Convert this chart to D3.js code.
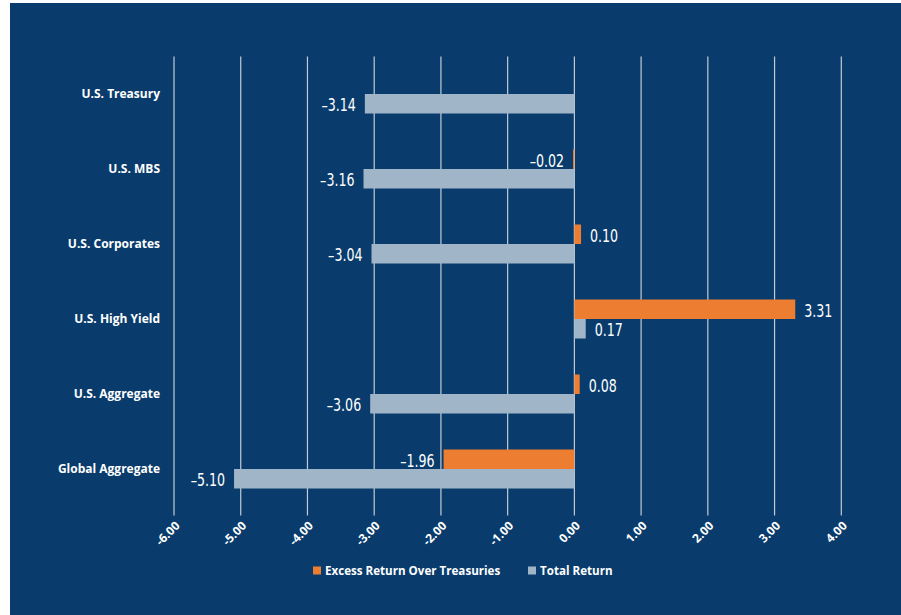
<!DOCTYPE html>
<html>
<head>
<meta charset="utf-8">
<script src="https://cdn.jsdelivr.net/npm/d3@7"></script>
<style>
  html, body { margin: 0; padding: 0; background: #ffffff; }
  svg { display: block; }
</style>
</head>
<body>
<svg id="chart" width="901" height="615"></svg>
<script>
const categories = ["U.S. Treasury", "U.S. MBS", "U.S. Corporates", "U.S. High Yield", "U.S. Aggregate", "Global Aggregate"];
const excessReturn = [null, -0.02, 0.10, 3.31, 0.08, -1.96];
const totalReturn = [-3.14, -3.16, -3.04, 0.17, -3.06, -5.10];
const seriesNames = ["Excess Return Over Treasuries", "Total Return"];
const seriesColors = ["#ed7d31", "#a1b5c9"];
const xTicks = [-6, -5, -4, -3, -2, -1, 0, 1, 2, 3, 4];

const svg = d3.select("#chart");
const W = 901, H = 615;
const bg = "#093c6c";

svg.append("rect").attr("x", 10).attr("y", 3).attr("width", W - 10).attr("height", H - 3).attr("fill", bg);

const plot = { left: 174, right: 841.3, top: 56.5, bottom: 506.5 };

const x = d3.scaleLinear().domain([-6, 4]).range([plot.left, plot.right]);
const y = d3.scaleBand().domain(categories).range([plot.top, plot.bottom]).paddingInner(0).paddingOuter(0);
const barH = 19.5;
const sub = d3.scaleBand().domain(seriesNames).range([y.bandwidth() / 2 - barH, y.bandwidth() / 2 + barH]);

// gridlines
const g = svg.append("g");
g.selectAll("line.grid").data(xTicks).join("line")
  .attr("x1", d => x(d)).attr("x2", d => x(d))
  .attr("y1", plot.top).attr("y2", plot.bottom + 9)
  .attr("stroke", "#c3cbd5").attr("stroke-width", 1.2);

// x axis labels
const axis = d3.axisBottom(x).tickValues(xTicks).tickFormat(d => d.toFixed(2)).tickSize(0);
const ax = svg.append("g").attr("transform", `translate(0,${plot.bottom + 10})`).call(axis);
ax.select(".domain").remove();
ax.selectAll("text")
  .attr("fill", "#ffffff")
  .attr("font-family", "'Open Sans', 'Noto Sans', sans-serif")
  .attr("font-weight", "bold")
  .attr("font-size", "12px")
  .attr("text-anchor", "end")
  .attr("dy", null).attr("y", 0)
  .attr("transform", "translate(6,10) rotate(-45)");

// category labels
svg.append("g").selectAll("text").data(categories).join("text")
  .attr("x", 160)
  .attr("y", d => y(d) + y.bandwidth() / 2 - 0.5)
  .attr("dy", "0.35em")
  .attr("text-anchor", "end")
  .attr("fill", "#ffffff")
  .attr("font-family", "'Open Sans', 'Noto Sans', sans-serif")
  .attr("font-weight", "bold")
  .attr("font-size", "12px")
  .text(d => d);

// bars
const rows = [];
categories.forEach((c, i) => {
  [excessReturn[i], totalReturn[i]].forEach((v, j) => {
    if (v !== null) rows.push({ cat: c, series: seriesNames[j], color: seriesColors[j], value: v });
  });
});

const bars = svg.append("g");
bars.selectAll("rect").data(rows).join("rect")
  .attr("x", d => Math.min(x(0), x(d.value)))
  .attr("y", d => y(d.cat) + sub(d.series))
  .attr("width", d => Math.max(Math.abs(x(d.value) - x(0)), 1.2))
  .attr("height", sub.bandwidth())
  .attr("fill", d => d.color);

// value labels
const labelX = d => d.value < 0 ? x(d.value) - 9 : x(d.value) + 9;
bars.selectAll("text").data(rows).join("text")
  .attr("x", labelX)
  .attr("y", d => y(d.cat) + sub(d.series) + sub.bandwidth() / 2 + 1)
  .attr("dy", "0.35em")
  .attr("text-anchor", d => d.value < 0 ? "end" : "start")
  .attr("fill", "#ffffff")
  .attr("font-family", "'Liberation Sans Narrow', 'DejaVu Sans Condensed', sans-serif")
  .attr("font-size", "18px")
  .attr("transform", d => {
    const tx = labelX(d);
    return `translate(${tx},0) scale(0.78,1) translate(${-tx},0)`;
  })
  .text(d => (d.value < 0 ? "\u2013" + (-d.value).toFixed(2) : d.value.toFixed(2)));

// legend
const legend = svg.append("g").attr("transform", "translate(0,571)");
const legItems = [
  { name: seriesNames[0], color: seriesColors[0], x: 313 },
  { name: seriesNames[1], color: seriesColors[1], x: 528 }
];
legItems.forEach(it => {
  legend.append("rect").attr("x", it.x).attr("y", -4.5).attr("width", 8).attr("height", 8).attr("fill", it.color);
  legend.append("text").attr("x", it.x + 12).attr("y", 0).attr("dy", "0.35em")
    .attr("fill", "#ffffff")
    .attr("font-family", "'Open Sans', 'Noto Sans', sans-serif")
    .attr("font-weight", "bold")
    .attr("font-size", "11.6px")
    .text(it.name);
});
</script>
</body>
</html>
